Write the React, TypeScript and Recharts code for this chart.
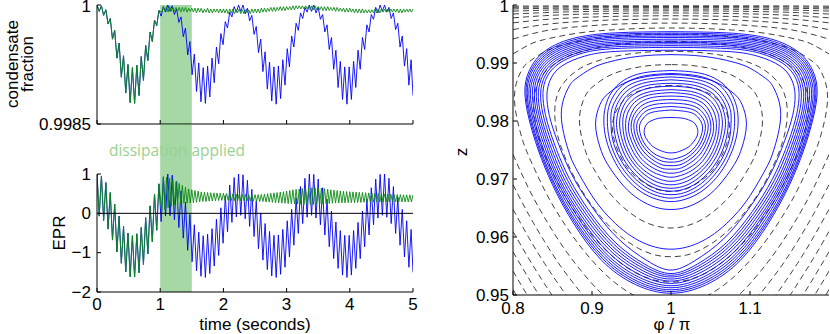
import React from "react";
import { LineChart, Line, XAxis, YAxis, ReferenceArea, ReferenceLine } from "recharts";

// ---- left panels: time series (both runs share samples until dissipation starts) ----
const T_BLUE = [
  0, 0.035, 0.07, 0.105, 0.14, 0.175, 0.21, 0.245, 0.28, 0.315, 0.35, 0.385, 0.42, 0.455, 0.49, 0.525,
  0.56, 0.595, 0.63, 0.665, 0.7, 0.735, 0.77, 0.805, 0.84, 0.875, 0.91, 0.945, 0.98, 1.015, 1.05, 1.085,
  1.12, 1.155, 1.19, 1.225, 1.26, 1.295, 1.33, 1.365, 1.4, 1.435, 1.47, 1.505, 1.54, 1.575, 1.61, 1.645,
  1.68, 1.715, 1.75, 1.785, 1.82, 1.855, 1.89, 1.925, 1.96, 1.995, 2.03, 2.065, 2.1, 2.135, 2.17, 2.205,
  2.24, 2.275, 2.31, 2.345, 2.38, 2.415, 2.45, 2.485, 2.52, 2.555, 2.59, 2.625, 2.66, 2.695, 2.73, 2.765,
  2.8, 2.835, 2.87, 2.905, 2.94, 2.975, 3.01, 3.045, 3.08, 3.115, 3.15, 3.185, 3.22, 3.255, 3.29, 3.325,
  3.36, 3.395, 3.43, 3.465, 3.5, 3.535, 3.57, 3.605, 3.64, 3.675, 3.71, 3.745, 3.78, 3.815, 3.85, 3.885,
  3.92, 3.955, 3.99, 4.025, 4.06, 4.095, 4.13, 4.165, 4.2, 4.235, 4.27, 4.305, 4.34, 4.375, 4.41, 4.445,
  4.48, 4.515, 4.55, 4.585, 4.62, 4.655, 4.69, 4.725, 4.76, 4.795, 4.83, 4.865, 4.9, 4.935, 4.97, 5,
];

const EPR_BLUE = [
  1.0, -0.07, 0.95, -0.18, 0.78, -0.4, 0.53, -0.68, 0.23, -0.98, -0.07, -1.27, -0.33, -1.49, -0.5, -1.61,
  -0.57, -1.62, -0.52, -1.51, -0.36, -1.3, -0.11, -1.03, 0.19, -0.72, 0.49, -0.43, 0.75, -0.21, 0.93, -0.07,
  1.0, -0.06, 0.97, -0.16, 0.81, -0.36, 0.57, -0.63, 0.28, -0.94, -0.03, -1.23, -0.29, -1.46, -0.48, -1.6,
  -0.57, -1.63, -0.53, -1.53, -0.39, -1.34, -0.15, -1.07, 0.14, -0.76, 0.45, -0.47, 0.72, -0.23, 0.91, -0.09,
  1.0, -0.05, 0.98, -0.14, 0.84, -0.33, 0.61, -0.59, 0.32, -0.9, 0.01, -1.19, -0.26, -1.43, -0.46, -1.59,
  -0.56, -1.63, -0.55, -1.55, -0.41, -1.37, -0.19, -1.11, 0.1, -0.81, 0.4, -0.51, 0.68, -0.26, 0.89, -0.1,
  1.0, -0.05, 0.99, -0.12, 0.87, -0.29, 0.65, -0.55, 0.36, -0.85, 0.06, -1.15, -0.22, -1.4, -0.44, -1.57,
  -0.56, -1.63, -0.56, -1.57, -0.44, -1.4, -0.23, -1.15, 0.06, -0.85, 0.36, -0.55, 0.65, -0.29, 0.87, -0.12,
  0.99, -0.05, 1.0, -0.1, 0.89, -0.26, 0.68, -0.51, 0.41, -0.81, 0.1, -1.11, -0.19, -1.37, -0.41, -1.5,
];

const CF_BLUE = [
  1.0, 0.99992, 0.99999, 0.99987, 0.99994, 0.99976, 0.99983, 0.99957, 0.99968, 0.99933, 0.99952, 0.99909, 0.99936, 0.99889, 0.99925, 0.99877,
  0.99921, 0.99876, 0.99924, 0.99886, 0.99935, 0.99905, 0.99949, 0.9993, 0.99966, 0.99954, 0.99981, 0.99974, 0.99993, 0.99986, 0.99998, 0.99991,
  1.0, 0.99992, 0.99999, 0.99988, 0.99995, 0.99978, 0.99985, 0.9996, 0.99971, 0.99937, 0.99954, 0.99912, 0.99938, 0.99891, 0.99927, 0.99878,
  0.99921, 0.99876, 0.99923, 0.99884, 0.99933, 0.99902, 0.99947, 0.99926, 0.99964, 0.9995, 0.99979, 0.99971, 0.99991, 0.99985, 0.99998, 0.99991,
  1.0, 0.99992, 1.0, 0.99989, 0.99996, 0.9998, 0.99987, 0.99963, 0.99973, 0.9994, 0.99957, 0.99916, 0.99941, 0.99894, 0.99928, 0.99879,
  0.99922, 0.99875, 0.99923, 0.99882, 0.99931, 0.99899, 0.99945, 0.99922, 0.99961, 0.99947, 0.99977, 0.99968, 0.9999, 0.99983, 0.99997, 0.99991,
  1.0, 0.99992, 1.0, 0.9999, 0.99997, 0.99982, 0.99988, 0.99966, 0.99975, 0.99944, 0.99959, 0.99919, 0.99943, 0.99896, 0.99929, 0.99881,
  0.99922, 0.99875, 0.99922, 0.99881, 0.99929, 0.99896, 0.99943, 0.99919, 0.99959, 0.99944, 0.99975, 0.99966, 0.99988, 0.99982, 0.99997, 0.9999,
  1.0, 0.99992, 1.0, 0.99991, 0.99997, 0.99983, 0.9999, 0.99969, 0.99977, 0.99947, 0.99961, 0.99923, 0.99945, 0.99899, 0.99931, 0.99886,
];

const PRE_DISSIPATION = 29; // first samples are identical for both runs

const T_GREEN_POST = [
  1.025, 1.05, 1.075, 1.1, 1.125, 1.15, 1.175, 1.2, 1.225, 1.25, 1.275, 1.3, 1.325, 1.35, 1.375, 1.4,
  1.425, 1.45, 1.475, 1.5, 1.525, 1.55, 1.575, 1.6, 1.625, 1.65, 1.675, 1.7, 1.725, 1.75, 1.775, 1.8,
  1.825, 1.85, 1.875, 1.9, 1.925, 1.95, 1.975, 2, 2.025, 2.05, 2.075, 2.1, 2.125, 2.15, 2.175, 2.2,
  2.225, 2.25, 2.275, 2.3, 2.325, 2.35, 2.375, 2.4, 2.425, 2.45, 2.475, 2.5, 2.525, 2.55, 2.575, 2.6,
  2.625, 2.65, 2.675, 2.7, 2.725, 2.75, 2.775, 2.8, 2.825, 2.85, 2.875, 2.9, 2.925, 2.95, 2.975, 3,
  3.025, 3.05, 3.075, 3.1, 3.125, 3.15, 3.175, 3.2, 3.225, 3.25, 3.275, 3.3, 3.325, 3.35, 3.375, 3.4,
  3.425, 3.45, 3.475, 3.5, 3.525, 3.55, 3.575, 3.6, 3.625, 3.65, 3.675, 3.7, 3.725, 3.75, 3.775, 3.8,
  3.825, 3.85, 3.875, 3.9, 3.925, 3.95, 3.975, 4, 4.025, 4.05, 4.075, 4.1, 4.125, 4.15, 4.175, 4.2,
  4.225, 4.25, 4.275, 4.3, 4.325, 4.35, 4.375, 4.4, 4.425, 4.45, 4.475, 4.5, 4.525, 4.55, 4.575, 4.6,
  4.625, 4.65, 4.675, 4.7, 4.725, 4.75, 4.775, 4.8, 4.825, 4.85, 4.875, 4.9, 4.925, 4.95, 4.975, 5,
];

const EPR_GREEN_POST = [
  0.04, 0.92, 0.09, 0.92, 0.14, 0.89, 0.18, 0.86, 0.21, 0.8, 0.24, 0.76, 0.245, 0.71, 0.255, 0.66,
  0.26, 0.62, 0.26, 0.6, 0.27, 0.58, 0.28, 0.565, 0.29, 0.545, 0.3, 0.54, 0.3, 0.53, 0.31, 0.525,
  0.315, 0.52, 0.32, 0.515, 0.325, 0.51, 0.33, 0.51, 0.33, 0.505, 0.33, 0.5, 0.325, 0.495, 0.325, 0.49,
  0.32, 0.485, 0.32, 0.48, 0.32, 0.48, 0.315, 0.475, 0.31, 0.475, 0.31, 0.475, 0.305, 0.475, 0.3, 0.48,
  0.3, 0.49, 0.29, 0.5, 0.285, 0.51, 0.28, 0.52, 0.27, 0.53, 0.265, 0.54, 0.26, 0.55, 0.255, 0.565,
  0.25, 0.58, 0.245, 0.6, 0.24, 0.61, 0.235, 0.62, 0.23, 0.63, 0.225, 0.64, 0.22, 0.645, 0.225, 0.65,
  0.225, 0.65, 0.23, 0.65, 0.235, 0.64, 0.24, 0.63, 0.245, 0.615, 0.25, 0.6, 0.255, 0.59, 0.26, 0.58,
  0.26, 0.57, 0.265, 0.56, 0.265, 0.555, 0.27, 0.55, 0.27, 0.545, 0.27, 0.54, 0.275, 0.535, 0.275, 0.53,
  0.28, 0.525, 0.28, 0.52, 0.28, 0.515, 0.285, 0.51, 0.285, 0.505, 0.285, 0.5, 0.29, 0.495, 0.29, 0.49,
  0.29, 0.485, 0.29, 0.48, 0.29, 0.48, 0.29, 0.475, 0.29, 0.47, 0.29, 0.47, 0.29, 0.47, 0.29, 0.47,
];

const CF_GREEN_POST = [
  0.99991, 0.99998, 0.99992, 0.99998, 0.99991, 0.99998, 0.99992, 0.99997, 0.99992, 0.99997, 0.99992, 0.99997, 0.99991, 0.99997, 0.99992, 0.99997,
  0.99991, 0.99996, 0.99992, 0.99996, 0.99991, 0.99996, 0.9999, 0.99996, 0.99991, 0.99996, 0.9999, 0.99995, 0.99991, 0.99996, 0.9999, 0.99995,
  0.9999, 0.99995, 0.99991, 0.99995, 0.9999, 0.99995, 0.9999, 0.99995, 0.9999, 0.99995, 0.99989, 0.99995, 0.9999, 0.99995, 0.99989, 0.99994,
  0.9999, 0.99995, 0.99989, 0.99994, 0.99989, 0.99994, 0.9999, 0.99994, 0.99989, 0.99995, 0.9999, 0.99995, 0.9999, 0.99995, 0.9999, 0.99996,
  0.99991, 0.99996, 0.99991, 0.99996, 0.99992, 0.99997, 0.99992, 0.99997, 0.99992, 0.99997, 0.99993, 0.99998, 0.99993, 0.99998, 0.99993, 0.99998,
  0.99994, 0.99998, 0.99994, 0.99999, 0.99994, 0.99999, 0.99995, 0.99999, 0.99995, 0.99999, 0.99995, 0.99999, 0.99995, 0.99999, 0.99994, 0.99999,
  0.99994, 0.99999, 0.99994, 0.99998, 0.99994, 0.99998, 0.99993, 0.99998, 0.99993, 0.99998, 0.99993, 0.99997, 0.99993, 0.99997, 0.99992, 0.99997,
  0.99992, 0.99996, 0.99992, 0.99996, 0.99991, 0.99996, 0.99991, 0.99996, 0.99991, 0.99995, 0.9999, 0.99995, 0.9999, 0.99995, 0.9999, 0.99995,
  0.9999, 0.99994, 0.9999, 0.99994, 0.9999, 0.99994, 0.9999, 0.99995, 0.9999, 0.99995, 0.9999, 0.99995, 0.99991, 0.99995, 0.99991, 0.99995,
  0.99991, 0.99995, 0.99991, 0.99995, 0.99991, 0.99995, 0.9999, 0.99995, 0.9999, 0.99995, 0.99991, 0.99995, 0.99991, 0.99995, 0.99991, 0.99995,
];

const TIME_TICKS = [0, 1, 2, 3, 4, 5];
const CF_TICKS = [0.9985, 1];
const EPR_TICKS = [-2, -1, 0, 1];
const DISSIPATION_WINDOW = [1, 1.5];

// ---- right panel: phase portrait (phi/pi, z); half curves on the left, mirrored about phi/pi = 1 ----
const PHI_TICKS = [0.8, 0.9, 1, 1.1];
const Z_TICKS = [0.95, 0.96, 0.97, 0.98, 0.99, 1];

// closed dashed contours, top centre -> left -> bottom centre
const DASH_CLOSED = [
  [[1, 0.98613], [0.98, 0.98592], [0.96, 0.98519], [0.94, 0.98354], [0.9258, 0.9789], [0.94, 0.97292], [0.96, 0.9699], [0.98, 0.96832], [1, 0.96785]],
  [[1, 0.98972], [0.98, 0.98964], [0.96, 0.98932], [0.94, 0.98873], [0.92, 0.9877], [0.9, 0.9858], [0.89, 0.9839], [0.8841, 0.98018], [0.89, 0.97558], [0.9, 0.9723], [0.92, 0.96799], [0.94, 0.96509], [0.96, 0.96308], [0.98, 0.96193], [1, 0.96155]],
  [[1, 0.99202], [0.98, 0.99197], [0.96, 0.99176], [0.94, 0.99142], [0.92, 0.99087], [0.9, 0.99003], [0.88, 0.98862], [0.86, 0.98573], [0.8528, 0.98146], [0.86, 0.97588], [0.88, 0.9697], [0.9, 0.96542], [0.92, 0.96215], [0.94, 0.95971], [0.96, 0.95796], [0.98, 0.9569], [1, 0.9566]],
  [[1, 0.99369], [0.98, 0.99367], [0.96, 0.99353], [0.94, 0.9933], [0.92, 0.99295], [0.9, 0.99243], [0.88, 0.99169], [0.86, 0.99052], [0.84, 0.98838], [0.83, 0.98604], [0.8261, 0.98273], [0.83, 0.97862], [0.84, 0.97431], [0.86, 0.96845], [0.88, 0.964], [0.9, 0.96032], [0.92, 0.9574], [0.94, 0.95513], [0.96, 0.9535], [0.98, 0.95254], [1, 0.95223]],
  [[1, 0.995], [0.98, 0.99497], [0.96, 0.99488], [0.94, 0.99471], [0.92, 0.99448], [0.9, 0.99414], [0.88, 0.99366], [0.86, 0.99298], [0.84, 0.99195], [0.82, 0.99018], [0.81, 0.98852], [0.8018, 0.98401], [0.81, 0.9777], [0.82, 0.97392], [0.84, 0.96809], [0.86, 0.96334], [0.88, 0.95933], [0.9, 0.95596], [0.92, 0.95318], [0.94, 0.95103], [0.96, 0.94946], [0.98, 0.94853], [1, 0.94823]],
];

// open dashed contours near z = 1, left edge -> centre
const DASH_UPPER = [
  [[0.8, 0.99156], [0.82, 0.99313], [0.84, 0.99405], [0.88, 0.99511], [0.92, 0.99567], [0.96, 0.99595], [1, 0.99603]],
  [[0.8, 0.99413], [0.84, 0.99553], [0.88, 0.99623], [0.92, 0.99662], [0.96, 0.99682], [1, 0.99688]],
  [[0.8, 0.99576], [0.84, 0.99663], [0.88, 0.99711], [0.92, 0.99739], [0.96, 0.99753], [1, 0.99758]],
  [[0.8, 0.99692], [0.84, 0.99749], [0.88, 0.99781], [0.92, 0.99801], [0.96, 0.99811], [1, 0.99815]],
  [[0.8, 0.99778], [0.84, 0.99816], [0.88, 0.99839], [0.92, 0.99852], [0.96, 0.99859], [1, 0.99862]],
  [[0.8, 0.99844], [0.84, 0.99869], [0.88, 0.99884], [0.92, 0.99893], [0.96, 0.99898], [1, 0.999]],
  [[0.8, 0.99895], [0.84, 0.9991], [0.88, 0.9992], [0.92, 0.99926], [0.96, 0.99929], [1, 0.9993]],
  [[0.8, 0.99933], [0.88, 0.99948], [1, 0.99954]],
  [[0.8, 0.9996], [0.88, 0.99969], [1, 0.99973]],
  [[0.8, 0.9998], [0.88, 0.99985], [1, 0.99986]],
];

// open dashed contours in the lower-left corner, left edge -> bottom edge
const DASH_LOWER = [
  [[0.8, 0.97422], [0.82, 0.96832], [0.84, 0.96334], [0.86, 0.95897], [0.88, 0.95522], [0.9, 0.95196], [0.9139, 0.95]],
  [[0.8, 0.96902], [0.82, 0.96384], [0.84, 0.95921], [0.86, 0.95503], [0.88, 0.95142], [0.8884, 0.95]],
  [[0.8, 0.96477], [0.82, 0.95989], [0.84, 0.95543], [0.86, 0.95139], [0.8674, 0.95]],
  [[0.8, 0.96096], [0.82, 0.95626], [0.84, 0.9519], [0.8492, 0.95]],
  [[0.8, 0.95745], [0.82, 0.95283], [0.833, 0.95]],
  [[0.8, 0.95413], [0.81, 0.9518], [0.818, 0.95]],
  [[0.8, 0.95096], [0.804, 0.95]],
];

// blue trajectories: outer band
const BAND_ORBITS = [
  [[1, 0.9954], [0.93, 0.9952], [0.875, 0.9942], [0.838, 0.9918], [0.82, 0.9885], [0.815, 0.985], [0.82, 0.9805], [0.832, 0.975], [0.85, 0.969], [0.876, 0.9625], [0.912, 0.956], [0.955, 0.9518], [1, 0.9503]],
  [[1, 0.99515], [0.93, 0.99495], [0.876, 0.99395], [0.8395, 0.9916], [0.8215, 0.98835], [0.8165, 0.9849], [0.8215, 0.98045], [0.8335, 0.975], [0.8515, 0.96905], [0.8775, 0.96265], [0.9135, 0.95625], [0.956, 0.9521], [1, 0.9506]],
  [[1, 0.9949], [0.93, 0.9947], [0.877, 0.9937], [0.841, 0.9914], [0.823, 0.9882], [0.818, 0.9848], [0.823, 0.9804], [0.835, 0.975], [0.853, 0.9691], [0.879, 0.9628], [0.915, 0.9565], [0.957, 0.9524], [1, 0.9509]],
  [[1, 0.99465], [0.93, 0.99445], [0.878, 0.99345], [0.8425, 0.9912], [0.825, 0.98805], [0.82, 0.9847], [0.825, 0.98035], [0.837, 0.975], [0.855, 0.9692], [0.881, 0.963], [0.9165, 0.9568], [0.958, 0.95275], [1, 0.95125]],
  [[1, 0.9944], [0.93, 0.9942], [0.879, 0.9932], [0.844, 0.991], [0.827, 0.9879], [0.822, 0.9846], [0.827, 0.9803], [0.839, 0.975], [0.857, 0.9693], [0.883, 0.9632], [0.918, 0.9571], [0.959, 0.9531], [1, 0.9516]],
  [[1, 0.9941], [0.93, 0.9939], [0.8805, 0.99295], [0.846, 0.9908], [0.829, 0.98775], [0.8245, 0.98445], [0.8295, 0.98025], [0.8415, 0.975], [0.859, 0.9694], [0.885, 0.9634], [0.92, 0.95745], [0.9605, 0.9535], [1, 0.952]],
  [[1, 0.9938], [0.93, 0.9936], [0.882, 0.9927], [0.848, 0.9906], [0.831, 0.9876], [0.827, 0.9843], [0.832, 0.9802], [0.844, 0.975], [0.861, 0.9695], [0.887, 0.9636], [0.922, 0.9578], [0.962, 0.9539], [1, 0.9524]],
  [[1, 0.99355], [0.93, 0.99335], [0.8835, 0.99245], [0.85, 0.9904], [0.8335, 0.98745], [0.8295, 0.9842], [0.8345, 0.98015], [0.8465, 0.97505], [0.8635, 0.9696], [0.8895, 0.9638], [0.924, 0.9581], [0.9635, 0.95425], [1, 0.95275]],
  [[1, 0.9933], [0.93, 0.9931], [0.885, 0.9922], [0.852, 0.9902], [0.836, 0.9873], [0.832, 0.9841], [0.837, 0.9801], [0.849, 0.9751], [0.866, 0.9697], [0.892, 0.964], [0.926, 0.9584], [0.965, 0.9546], [1, 0.9531]],
  [[1, 0.993], [0.93, 0.9928], [0.8865, 0.99195], [0.8545, 0.99], [0.8385, 0.98715], [0.835, 0.984], [0.84, 0.98005], [0.852, 0.9751], [0.869, 0.9698], [0.8945, 0.9642], [0.928, 0.9587], [0.966, 0.95495], [1, 0.9534]],
  [[1, 0.9927], [0.93, 0.9925], [0.888, 0.9917], [0.857, 0.9898], [0.841, 0.987], [0.838, 0.9839], [0.843, 0.98], [0.855, 0.9751], [0.872, 0.9699], [0.897, 0.9644], [0.93, 0.959], [0.967, 0.9553], [1, 0.9537]],
  [[1, 0.9922], [0.93, 0.992], [0.891, 0.9912], [0.861, 0.9894], [0.846, 0.9867], [0.843, 0.9837], [0.848, 0.9799], [0.86, 0.9752], [0.877, 0.9701], [0.902, 0.9648], [0.934, 0.9596], [0.97, 0.9559], [1, 0.9543]],
];

// blue trajectories: two isolated loops between band and core
const MID_ORBITS = [
  [[1, 0.99145], [0.98, 0.99138], [0.96, 0.99116], [0.94, 0.99076], [0.92, 0.99012], [0.9, 0.98911], [0.88, 0.98732], [0.87, 0.9857], [0.8611, 0.98111], [0.87, 0.97498], [0.88, 0.97175], [0.9, 0.9671], [0.92, 0.96364], [0.94, 0.9611], [0.96, 0.95933], [0.98, 0.95826], [1, 0.9579]],
  [[1, 0.98801], [0.98, 0.98787], [0.96, 0.98741], [0.94, 0.98648], [0.92, 0.98468], [0.91, 0.9828], [0.9045, 0.97947], [0.91, 0.97552], [0.92, 0.97248], [0.94, 0.96879], [0.96, 0.96646], [0.98, 0.96515], [1, 0.96474]],
];

// blue trajectories: inner core
const CORE_ORBITS = [
  [[1, 0.9887], [0.965, 0.9883], [0.94, 0.987], [0.925, 0.985], [0.917, 0.9825], [0.915, 0.9798], [0.918, 0.9768], [0.927, 0.9735], [0.942, 0.9703], [0.962, 0.9678], [0.982, 0.9665], [1, 0.9661]],
  [[1, 0.9882], [0.967, 0.9878], [0.943, 0.9866], [0.929, 0.9847], [0.921, 0.9823], [0.9195, 0.9797], [0.922, 0.9769], [0.9305, 0.9737], [0.945, 0.9707], [0.964, 0.9683], [0.983, 0.9671], [1, 0.9667]],
  [[1, 0.9876], [0.969, 0.9872], [0.946, 0.9861], [0.933, 0.9843], [0.925, 0.982], [0.924, 0.9796], [0.926, 0.9769], [0.934, 0.9739], [0.948, 0.971], [0.966, 0.9688], [0.984, 0.9676], [1, 0.9673]],
  [[1, 0.9871], [0.9705, 0.9867], [0.9485, 0.9856], [0.936, 0.9839], [0.929, 0.9818], [0.9275, 0.9795], [0.93, 0.977], [0.9375, 0.9741], [0.9505, 0.9714], [0.9675, 0.9693], [0.9845, 0.9682], [1, 0.9679]],
  [[1, 0.9865], [0.972, 0.9862], [0.951, 0.9851], [0.939, 0.9835], [0.933, 0.9815], [0.931, 0.9794], [0.934, 0.977], [0.941, 0.9743], [0.953, 0.9718], [0.969, 0.9698], [0.985, 0.9687], [1, 0.9684]],
  [[1, 0.986], [0.9735, 0.9857], [0.954, 0.9847], [0.9425, 0.9832], [0.9365, 0.9813], [0.935, 0.9793], [0.9375, 0.9771], [0.944, 0.9746], [0.9555, 0.9722], [0.971, 0.9703], [0.986, 0.9693], [1, 0.969]],
  [[1, 0.9854], [0.975, 0.9851], [0.957, 0.9842], [0.946, 0.9828], [0.94, 0.9811], [0.939, 0.9792], [0.941, 0.9771], [0.947, 0.9748], [0.958, 0.9725], [0.973, 0.9708], [0.987, 0.9699], [1, 0.9696]],
  [[1, 0.9849], [0.9765, 0.9846], [0.9595, 0.9838], [0.9495, 0.9825], [0.944, 0.9809], [0.9425, 0.9791], [0.9445, 0.9772], [0.9505, 0.9751], [0.9605, 0.973], [0.9745, 0.9714], [0.988, 0.9706], [1, 0.9703]],
  [[1, 0.9843], [0.978, 0.9841], [0.962, 0.9833], [0.953, 0.9821], [0.948, 0.9806], [0.946, 0.979], [0.948, 0.9773], [0.954, 0.9753], [0.963, 0.9734], [0.976, 0.972], [0.989, 0.9712], [1, 0.971]],
  [[1, 0.9837], [0.9795, 0.9835], [0.9645, 0.9828], [0.956, 0.9817], [0.951, 0.9804], [0.9495, 0.9789], [0.9515, 0.9774], [0.957, 0.9756], [0.9655, 0.9739], [0.9775, 0.9726], [0.9895, 0.9718], [1, 0.9717]],
  [[1, 0.9831], [0.981, 0.9829], [0.967, 0.9823], [0.959, 0.9813], [0.954, 0.9801], [0.953, 0.9788], [0.955, 0.9774], [0.96, 0.9758], [0.968, 0.9743], [0.979, 0.9731], [0.99, 0.9724], [1, 0.9723]],
  [[1, 0.9825], [0.9825, 0.9823], [0.9695, 0.9818], [0.962, 0.9809], [0.9575, 0.9799], [0.9565, 0.9787], [0.9585, 0.9774], [0.963, 0.976], [0.9705, 0.9747], [0.9805, 0.9736], [0.991, 0.973], [1, 0.9729]],
  [[1, 0.9819], [0.984, 0.9817], [0.972, 0.9813], [0.965, 0.9805], [0.961, 0.9796], [0.96, 0.9786], [0.962, 0.9774], [0.966, 0.9762], [0.973, 0.975], [0.982, 0.9741], [0.992, 0.9736], [1, 0.9734]],
  [[1, 0.9806], [0.986, 0.9805], [0.976, 0.9801], [0.97, 0.9796], [0.967, 0.9789], [0.966, 0.9782], [0.967, 0.9774], [0.971, 0.9765], [0.977, 0.9756], [0.985, 0.975], [0.993, 0.9746], [1, 0.9745]],
];

// ---- helpers ----
const BLUE = "#0000ff";
const GREEN = "#0b8a12";
const BAND_FILL = "#3aa83a";
const FONT = '"Liberation Sans", Arial, Helvetica, sans-serif';

const series = (t: number[], v: number[]) => t.map((x, i) => ({ t: x, v: v[i] }));
const pts = (arr: number[][]) => arr.map(([x, z]) => ({ x, z }));
const mirror = (arr: number[][]) => arr.map(([x, z]) => [2 - x, z]);
const closeLoop = (half: number[][]) => pts([...half, ...mirror(half.slice(0, -1).reverse())]);
const fullWidth = (half: number[][]) => pts([...half, ...mirror(half.slice(0, -1).reverse())]);

const blueEpr = series(T_BLUE, EPR_BLUE);
const blueCf = series(T_BLUE, CF_BLUE);
const greenT = [...T_BLUE.slice(0, PRE_DISSIPATION), ...T_GREEN_POST];
const greenEpr = series(greenT, [...EPR_BLUE.slice(0, PRE_DISSIPATION), ...EPR_GREEN_POST]);
const greenCf = series(greenT, [...CF_BLUE.slice(0, PRE_DISSIPATION), ...CF_GREEN_POST]);

const tick = { fontSize: 17, fill: "#000" };
const axisLine = { stroke: "#000", strokeWidth: 1 };
const minus = (v: number) => (v < 0 ? "\u2212" + Math.abs(v) : String(v));
const blank = () => "";

// y tick label kept inside the picture when it sits on the top edge
const yTick = (fmt: (v: number) => string) => (p: any) => (
  <text x={p.x} y={Math.max(p.y, 6.5)} textAnchor="end" dominantBaseline="central" fontSize={17} fill="#000">
    {fmt(p.payload.value)}
  </text>
);

const CondLabel = () => (
  <g fontSize={17} fill="#000">
    <text x={18} y={64} transform="rotate(-90 18 64)" textAnchor="middle">condensate</text>
    <text x={33} y={64} transform="rotate(-90 33 64)" textAnchor="middle">fraction</text>
  </g>
);
const EprLabel = () => (
  <text x={65} y={74} transform="rotate(-90 65 74)" textAnchor="middle" fontSize={17} fill="#000">EPR</text>
);
const TimeLabel = () => (
  <text x={255} y={171} textAnchor="middle" fontSize={17} fill="#000">time (seconds)</text>
);
const ZLabel = () => (
  <text x={47} y={152} transform="rotate(-90 47 152)" textAnchor="middle" fontSize={17} fill="#000">z</text>
);
const PhiLabel = () => (
  <text x={252} y={330} textAnchor="middle" fontSize={17} fill="#000">φ / π</text>
);
const DissLabel = () => (
  <text x={177} y={26} textAnchor="middle" dominantBaseline="central" fontSize={15.5} fill="#98d292" fontFamily='"Open Sans", sans-serif'>
    dissipation applied
  </text>
);

const band = (
  <ReferenceArea x1={DISSIPATION_WINDOW[0]} x2={DISSIPATION_WINDOW[1]} fill={BAND_FILL} fillOpacity={0.45} stroke="none" ifOverflow="visible" />
);

export default function App() {
  return (
    <div style={{ position: "absolute", left: 0, top: 0, width: 830, height: 334, background: "#fff", fontFamily: FONT }}>
      {/* condensate fraction */}
      <div style={{ position: "absolute", left: 0, top: 0 }}>
        <LineChart width={420} height={140} margin={{ top: 5, right: 7, bottom: 0, left: 37 }}>
          <XAxis dataKey="t" type="number" domain={[0, 5]} ticks={TIME_TICKS} interval={0} tickFormatter={blank} tickSize={-4} height={16} axisLine={axisLine} tickLine={axisLine} allowDataOverflow />
          <XAxis xAxisId="top" orientation="top" dataKey="t" type="number" domain={[0, 5]} ticks={TIME_TICKS} interval={0} tickFormatter={blank} tickSize={-4} height={0} axisLine={axisLine} tickLine={axisLine} allowDataOverflow />
          <YAxis type="number" domain={[0.9985, 1]} ticks={CF_TICKS} interval={0} width={60} tickSize={-4} tickMargin={10} tick={yTick(String)} axisLine={axisLine} tickLine={axisLine} allowDataOverflow label={CondLabel} />
          <YAxis yAxisId="right" orientation="right" type="number" domain={[0.9985, 1]} ticks={CF_TICKS} interval={0} width={0} tickSize={-4} tickFormatter={blank} axisLine={axisLine} tickLine={axisLine} allowDataOverflow />
          <Line data={blueCf} dataKey="v" stroke={BLUE} strokeWidth={0.9} dot={false} activeDot={false} isAnimationActive={false} />
          <Line data={greenCf} dataKey="v" stroke={GREEN} strokeWidth={0.9} dot={false} activeDot={false} isAnimationActive={false} />
          {band}
        </LineChart>
      </div>

      {/* gap between panels: the dissipation band continues, with its caption on top */}
      <div style={{ position: "absolute", left: 0, top: 124 }}>
        <LineChart width={420} height={50} margin={{ top: 0, right: 7, bottom: 0, left: 97 }} data={[{ t: 0, v: 0 }, { t: 5, v: 1 }]}>
          <XAxis dataKey="t" type="number" domain={[0, 5]} height={0} axisLine={false} tickLine={false} tick={false} allowDataOverflow />
          <YAxis type="number" domain={[0, 1]} width={0} axisLine={false} tickLine={false} tick={false} allowDataOverflow />
          <ReferenceArea
            x1={DISSIPATION_WINDOW[0]}
            x2={DISSIPATION_WINDOW[1]}
            y1={0}
            y2={1}
            fill={BAND_FILL}
            fillOpacity={0.45}
            stroke="none"
            ifOverflow="visible"
            label={DissLabel}
          />
        </LineChart>
      </div>

      {/* EPR */}
      <div style={{ position: "absolute", left: 0, top: 159 }}>
        <LineChart width={420} height={175} margin={{ top: 15, right: 7, bottom: 0, left: 37 }}>
          <XAxis dataKey="t" type="number" domain={[0, 5]} ticks={TIME_TICKS} interval={0} tickSize={-4} tickMargin={10} height={42} tick={tick} axisLine={axisLine} tickLine={axisLine} allowDataOverflow label={TimeLabel} />
          <XAxis xAxisId="top" orientation="top" dataKey="t" type="number" domain={[0, 5]} ticks={TIME_TICKS} interval={0} tickFormatter={blank} tickSize={-4} height={0} axisLine={axisLine} tickLine={axisLine} allowDataOverflow />
          <YAxis type="number" domain={[-2, 1]} ticks={EPR_TICKS} interval={0} width={60} tickSize={-4} tickMargin={10} tick={yTick(minus)} axisLine={axisLine} tickLine={axisLine} allowDataOverflow label={EprLabel} />
          <YAxis yAxisId="right" orientation="right" type="number" domain={[-2, 1]} ticks={EPR_TICKS} interval={0} width={0} tickSize={-4} tickFormatter={blank} axisLine={axisLine} tickLine={axisLine} allowDataOverflow />
          <Line data={blueEpr} dataKey="v" stroke={BLUE} strokeWidth={0.9} dot={false} activeDot={false} isAnimationActive={false} />
          <Line data={greenEpr} dataKey="v" stroke={GREEN} strokeWidth={0.9} dot={false} activeDot={false} isAnimationActive={false} />
          <ReferenceLine y={0} stroke="#000" strokeWidth={1} />
          {band}
        </LineChart>
      </div>

      {/* phase portrait */}
      <div style={{ position: "absolute", left: 420, top: 0 }}>
        <LineChart width={410} height={334} margin={{ top: 5, right: 1, bottom: 0, left: 33 }}>
          <XAxis dataKey="x" type="number" domain={[0.8, 1.2]} ticks={PHI_TICKS} interval={0} tickSize={-4} tickMargin={11} height={39} tick={tick} tickFormatter={(v: number) => (v === 1 ? "1" : v.toFixed(1))} axisLine={axisLine} tickLine={axisLine} allowDataOverflow label={PhiLabel} />
          <XAxis xAxisId="top" orientation="top" dataKey="x" type="number" domain={[0.8, 1.2]} ticks={PHI_TICKS} interval={0} tickFormatter={blank} tickSize={-4} height={0} axisLine={axisLine} tickLine={axisLine} allowDataOverflow />
          <YAxis type="number" domain={[0.95, 1]} ticks={Z_TICKS} interval={0} width={60} tickSize={-4} tickMargin={8} tick={yTick((v: number) => (v === 1 ? "1" : v.toFixed(2)))} axisLine={axisLine} tickLine={axisLine} allowDataOverflow label={ZLabel} />
          <YAxis yAxisId="right" orientation="right" type="number" domain={[0.95, 1]} ticks={Z_TICKS} interval={0} width={0} tickSize={-4} tickFormatter={blank} axisLine={axisLine} tickLine={axisLine} allowDataOverflow />
          {DASH_CLOSED.map((h, i) => (
            <Line key={`dc${i}`} data={closeLoop(h)} dataKey="z" type="natural" stroke="#111" strokeWidth={0.8} strokeDasharray="6 4" dot={false} activeDot={false} isAnimationActive={false} />
          ))}
          {DASH_UPPER.map((h, i) => (
            <Line key={`du${i}`} data={fullWidth(h)} dataKey="z" type="natural" stroke="#111" strokeWidth={0.8} strokeDasharray="6 4" dot={false} activeDot={false} isAnimationActive={false} />
          ))}
          {DASH_LOWER.map((h, i) => (
            <Line key={`dl${i}`} data={pts(h)} dataKey="z" type="natural" stroke="#111" strokeWidth={0.8} strokeDasharray="6 4" dot={false} activeDot={false} isAnimationActive={false} />
          ))}
          {DASH_LOWER.map((h, i) => (
            <Line key={`dr${i}`} data={pts(mirror(h))} dataKey="z" type="natural" stroke="#111" strokeWidth={0.8} strokeDasharray="6 4" dot={false} activeDot={false} isAnimationActive={false} />
          ))}
          {[...BAND_ORBITS, ...MID_ORBITS, ...CORE_ORBITS].map((h, i) => (
            <Line key={`b${i}`} data={closeLoop(h)} dataKey="z" type="natural" stroke={BLUE} strokeWidth={0.9} dot={false} activeDot={false} isAnimationActive={false} />
          ))}
        </LineChart>
      </div>
    </div>
  );
}
